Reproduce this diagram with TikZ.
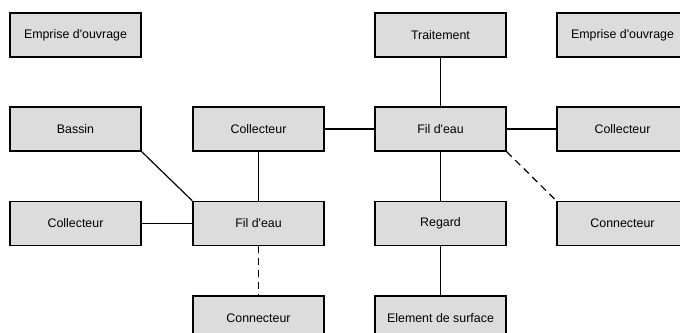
\documentclass[tikz,border=0pt]{standalone}
\usepackage{fontspec}
\setmainfont{Liberation Sans}[Ligatures=TeXOff]
\definecolor{boxgray}{HTML}{DCDCDC}
\tikzset{
  box/.style={draw=black, fill=boxgray, line width=1.5pt, minimum width=131pt, minimum height=44pt, inner sep=0pt, font=\fontsize{12.4pt}{14pt}\selectfont},
  link/.style={line width=1.2pt, draw=black},
  dlink/.style={link, dash pattern=on 7pt off 5pt}
}
\begin{document}
\begin{tikzpicture}[x=1pt,y=1pt]
\useasboundingbox (0,0) rectangle (680,-332);
\node[box] (emp1) at (75.5,-35) {Emprise d'ouvrage};
\node[box] (trait) at (440.5,-35) {Traitement};
\node[box] (emp2) at (622.5,-35) {Emprise d'ouvrage};
\node[box] (bassin) at (75.5,-129) {Bassin};
\node[box] (colm) at (258.5,-129) {Collecteur};
\node[box] (filr) at (440.5,-129) {Fil d'eau};
\node[box] (colr) at (622.5,-129) {Collecteur};
\node[box] (coll) at (75.5,-223.5) {Collecteur};
\node[box] (fill) at (258.5,-223.5) {Fil d'eau};
\node[box] (regard) at (440.5,-223.5) {Regard};
\node[box] (conr) at (622.5,-223.5) {Connecteur};
\node[box] (conb) at (258.5,-318) {Connecteur};
\node[box] (elem) at (440.5,-318) {Element de surface};
\draw[link] (trait) -- (filr);
\draw[link] (colm) -- (filr);
\draw[link] (filr) -- (colr);
\draw[dlink] (filr.south east) -- (conr.north west);
\draw[link] (filr) -- (regard);
\draw[link] (regard) -- (elem);
\draw[link] (colm) -- (fill);
\draw[link] (bassin.south east) -- (fill.north west);
\draw[link] (coll) -- (fill);
\draw[dlink] (fill) -- (conb);
\end{tikzpicture}
\end{document}
